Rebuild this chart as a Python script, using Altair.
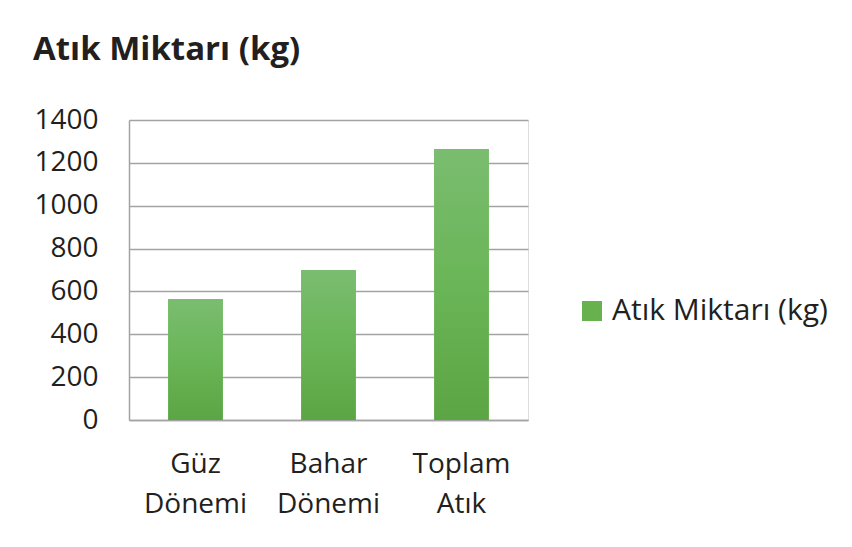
import altair as alt
import pandas as pd

categories = ["Güz Dönemi", "Bahar Dönemi", "Toplam Atık"]
values = [565, 700, 1265]
series_name = "Atık Miktarı (kg)"
y_ticks = [0, 200, 400, 600, 800, 1000, 1200, 1400]

df = pd.DataFrame({"kategori": categories, "deger": values, "seri": [series_name] * len(categories)})

FONT = "Open Sans"
TEXT = "#231f20"
GRID = "#a3a3a3"

x_enc = alt.X(
    "kategori:N",
    sort=categories,
    title=None,
    scale=alt.Scale(paddingInner=0.59, paddingOuter=0.295),
    axis=alt.Axis(
        labelExpr="split(datum.label, ' ')",
        labelAngle=0,
        labelFont=FONT,
        labelFontSize=28,
        labelColor=TEXT,
        labelLineHeight=40,
        labelPadding=30,
        labelBaseline="top",
        ticks=False,
        domainColor=GRID,
        domainWidth=1.5,
        grid=False,
    ),
)
y_enc = alt.Y(
    "deger:Q",
    title=None,
    scale=alt.Scale(domain=[0, 1400], nice=False),
    axis=alt.Axis(
        values=y_ticks,
        format="d",
        labelFont=FONT,
        labelFontSize=28,
        labelColor=TEXT,
        labelPadding=31,
        ticks=False,
        domainColor=GRID,
        domainWidth=1.5,
        gridColor=GRID,
        gridWidth=1.5,
        grid=True,
    ),
)

base_bars = alt.Chart(df).mark_bar().encode(
    x=x_enc,
    y=y_enc,
    color=alt.Color(
        "seri:N",
        scale=alt.Scale(range=["#67b24f"]),
        legend=alt.Legend(
            title=None,
            orient="none",
            legendX=448,
            legendY=176,
            symbolType="square",
            symbolSize=400,
            symbolStrokeWidth=0,
            labelFont=FONT,
            labelFontSize=30,
            labelColor=TEXT,
            labelOffset=5,
            labelLimit=400,
        ),
    ),
)

grad_bars = alt.Chart(df).mark_bar(
    color=alt.Gradient(
        gradient="linear",
        stops=[
            alt.GradientStop(color="#7abd70", offset=0),
            alt.GradientStop(color="#6ab557", offset=0.5),
            alt.GradientStop(color="#5ca544", offset=1),
        ],
        x1=0, x2=0, y1=0, y2=1,
    )
).encode(x=x_enc, y=y_enc)

chart = (
    alt.layer(base_bars, grad_bars)
    .properties(
        width=399,
        height=300,
        autosize=alt.AutoSizeParams(type="none"),
        padding={"left": 121, "top": 112, "right": 316, "bottom": 119},
        title=alt.TitleParams(
            text="Atık Miktarı (kg)",
            anchor="start",
            frame="group",
            font="Open Sans",
            fontWeight="bold",
            fontSize=33,
            color=TEXT,
            baseline="alphabetic",
            offset=13,
            dx=-96,
        ),
    )
    .configure_view(stroke=None)
    .configure(background="white")
)

chart.save("out.html", embed_options={"renderer": "svg", "actions": False})
